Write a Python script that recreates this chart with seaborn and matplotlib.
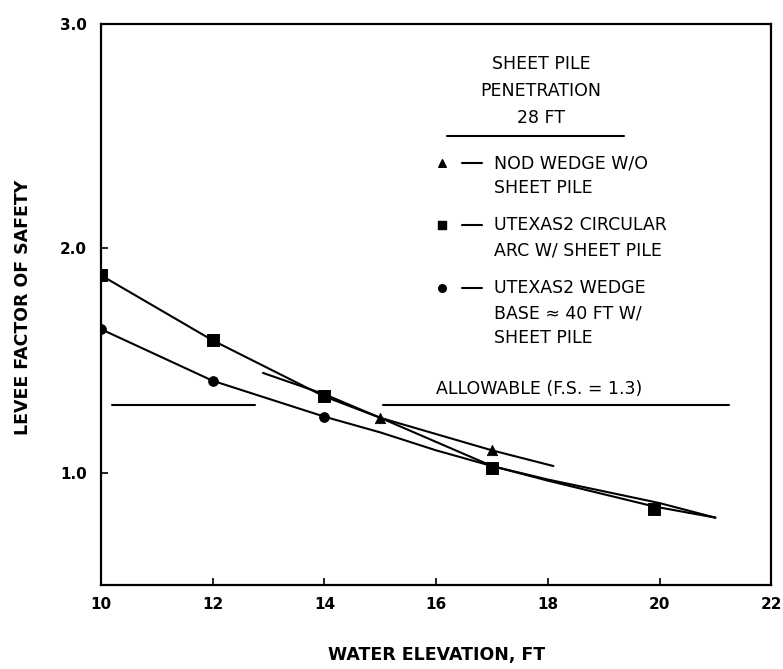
import matplotlib
matplotlib.use("Agg")
import matplotlib.pyplot as plt
import seaborn as sns
import pandas as pd

# ---- data ----
# UTEXAS2 circular arc w/ sheet pile (squares)
arc_x = [10, 12, 14, 15, 17, 18, 19.9, 21.0]
arc_y = [1.88, 1.59, 1.34, 1.245, 1.03, 0.965, 0.85, 0.80]
arc_mx = [10, 12, 14, 17, 19.9]
arc_my = [1.88, 1.59, 1.34, 1.02, 0.84]

# UTEXAS2 wedge, base ~ 40 ft w/ sheet pile (circles)
wedge_x = [10, 12, 13, 14, 15, 16, 17, 18, 20, 21.0]
wedge_y = [1.64, 1.41, 1.33, 1.25, 1.18, 1.10, 1.03, 0.97, 0.865, 0.80]
wedge_mx = [10, 12, 14]
wedge_my = [1.64, 1.41, 1.25]

# NOD wedge w/o sheet pile (triangles)
nod_x = [12.9, 14, 15, 17, 18.1]
nod_y = [1.445, 1.35, 1.245, 1.10, 1.03]
nod_mx = [15, 17]
nod_my = [1.245, 1.10]

allow_left_x = [10.2, 12.76]
allow_right_x = [15.05, 21.25]
allow_y = 1.3

xticks = [10, 12, 14, 16, 18, 20, 22]
yticks = [1.0, 2.0, 3.0]

legend_title = ["SHEET PILE", "PENETRATION", "28 FT"]
legend_entries = [
    ("^", ["NOD WEDGE W/O", "SHEET PILE"]),
    ("s", ["UTEXAS2 CIRCULAR", "ARC W/ SHEET PILE"]),
    ("o", ["UTEXAS2 WEDGE", "BASE \u2248 40 FT W/", "SHEET PILE"]),
]

# ---- figure ----
sns.set_style("ticks")
plt.rcParams["font.family"] = ["DejaVu Sans"]
plt.rcParams["text.color"] = "black"
plt.rcParams["axes.labelcolor"] = "black"
plt.rcParams["xtick.color"] = "black"
plt.rcParams["ytick.color"] = "black"
fig = plt.figure(figsize=(7.83, 6.69), dpi=100)
ax = fig.add_axes([0.129, 0.1256, 0.856, 0.8385])

lw = 1.5
k = "black"

def line(xs, ys):
    df = pd.DataFrame({"x": xs, "y": ys})
    sns.lineplot(data=df, x="x", y="y", ax=ax, color=k, lw=lw, sort=False,
                 estimator=None)

line(arc_x, arc_y)
line(wedge_x, wedge_y)
line(nod_x, nod_y)
line(allow_left_x, [allow_y] * 2)
line(allow_right_x, [allow_y] * 2)

sns.scatterplot(x=arc_mx, y=arc_my, ax=ax, marker="s", color=k, s=70,
                edgecolor=k, zorder=5)
sns.scatterplot(x=wedge_mx, y=wedge_my, ax=ax, marker="o", color=k, s=50,
                edgecolor=k, zorder=5)
sns.scatterplot(x=nod_mx, y=nod_my, ax=ax, marker="^", color=k, s=55,
                edgecolor=k, zorder=5)

ax.text(17.84, 1.375, "ALLOWABLE (F.S. = 1.3)", ha="center", va="center",
        fontsize=12.5, color=k)

# legend block
ty = [2.82, 2.70, 2.58]
for t, y in zip(legend_title, ty):
    ax.text(17.875, y, t, ha="center", va="center", fontsize=12.5, color=k)
ax.plot([16.2, 19.36], [2.503, 2.503], color=k, lw=lw)

row_y = [2.38, 2.105, 1.825]
dy = 0.113
for (m, lines), y0 in zip(legend_entries, row_y):
    ax.scatter([16.11], [y0], marker=m, color=k, s=30, zorder=5)
    ax.plot([16.46, 16.82], [y0, y0], color=k, lw=lw)
    for i, t in enumerate(lines):
        ax.text(17.04, y0 - i * dy, t, ha="left", va="center", fontsize=12.5,
                color=k)

ax.set_xlim(10, 22)
ax.set_ylim(0.5, 3.0)
ax.set_xticks(xticks)
ax.set_yticks(yticks)
ax.set_xticklabels([str(v) for v in xticks], fontweight="bold", fontsize=11)
ax.set_yticklabels([f"{v:.1f}" for v in yticks], fontweight="bold", fontsize=11)
ax.tick_params(direction="in", length=5, width=1.2, color=k, labelcolor=k)
ax.tick_params(axis="x", pad=9)
ax.tick_params(axis="y", pad=10)

for sp in ax.spines.values():
    sp.set_visible(True)
    sp.set_linewidth(1.6)
    sp.set_color(k)

ax.set_xlabel("WATER ELEVATION, FT", fontsize=12.5, fontweight="bold", color=k)
ax.set_ylabel("LEVEE FACTOR OF SAFETY", fontsize=12.5, fontweight="bold", color=k)
ax.xaxis.set_label_coords(0.5, -0.108)
ax.yaxis.set_label_coords(-0.103, 0.494)

fig.savefig("out.png", dpi=100)
